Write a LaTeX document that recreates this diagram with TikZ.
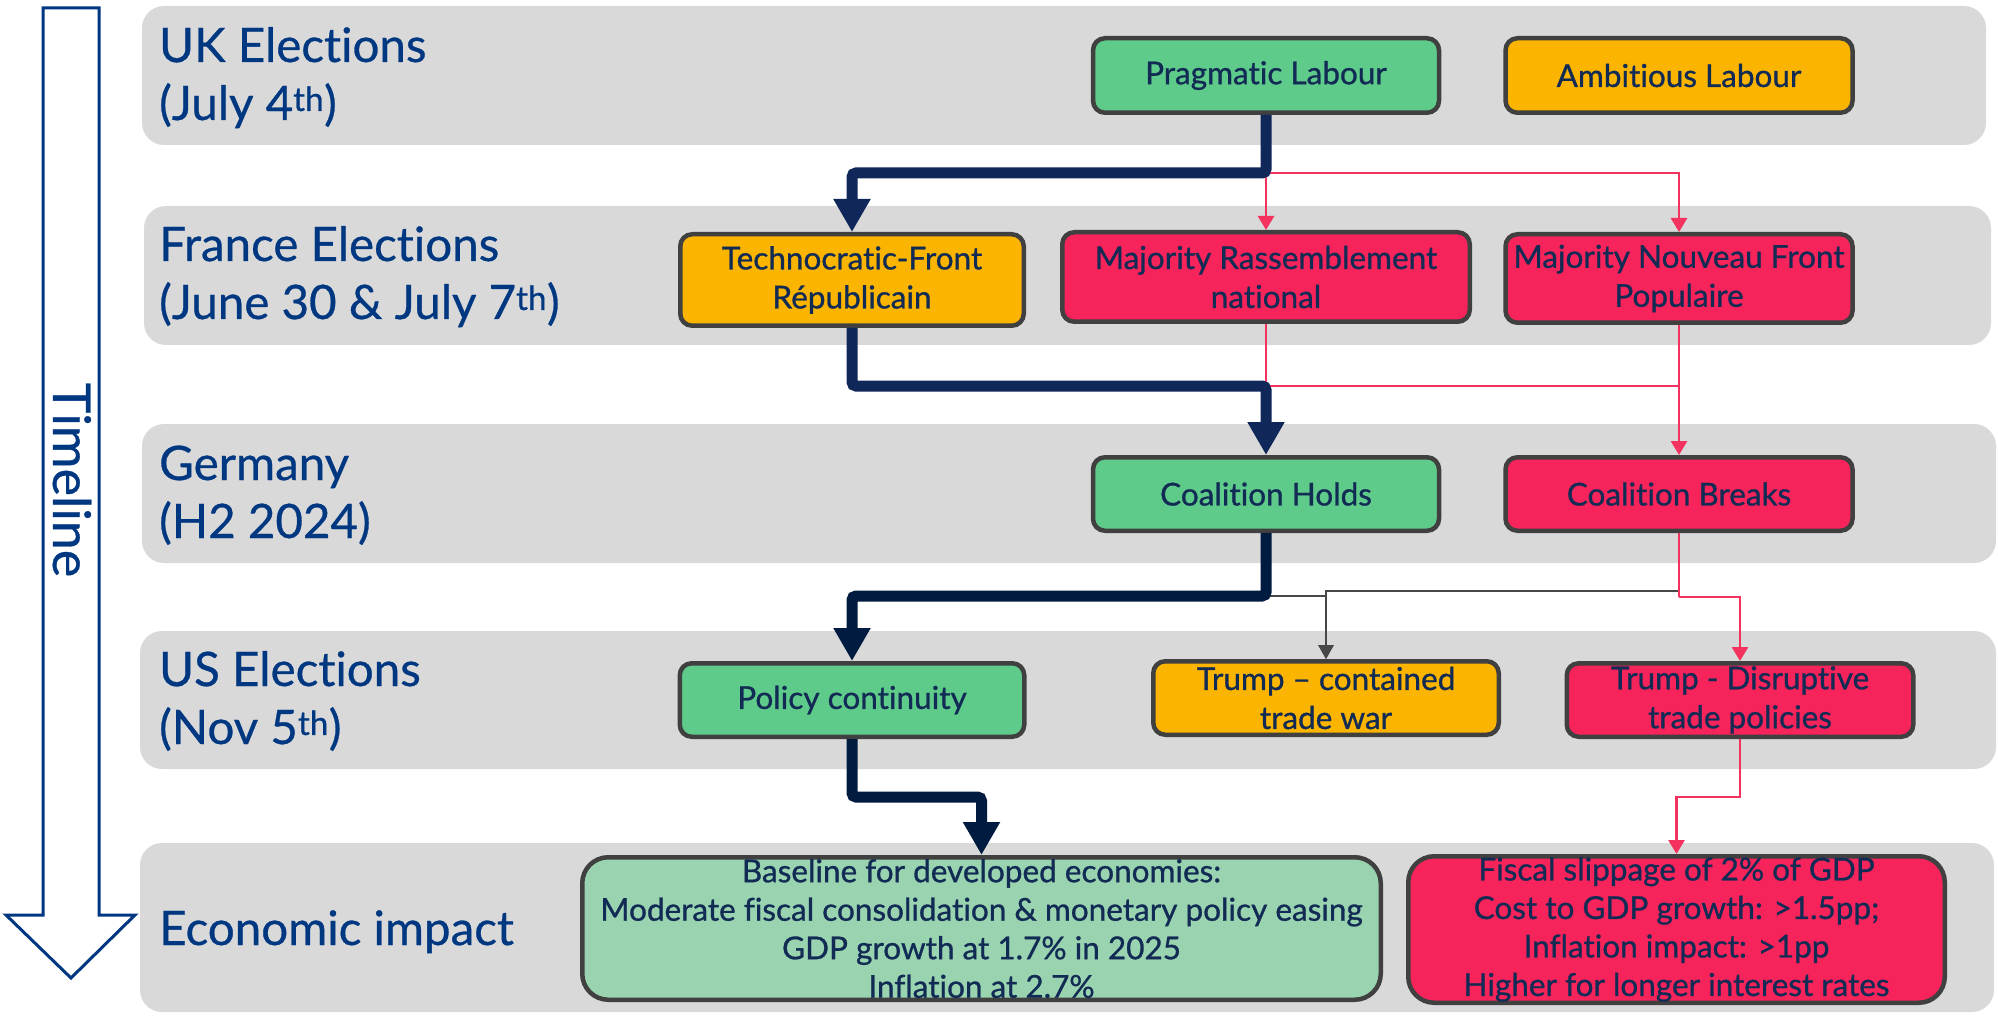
\documentclass[tikz,border=0pt]{standalone}
\usepackage{fontspec}
\setmainfont{Lato}[Ligatures=CommonOff]
\newfontfamily\boxfam{Lato}[Ligatures=CommonOff,FakeBold=0.9]
\newfontfamily\lblfam{Lato}[Ligatures=CommonOff,FakeBold=0.6]
\usetikzlibrary{arrows.meta}
\definecolor{bandgrey}{HTML}{D9D9D9}
\definecolor{lblue}{HTML}{003781}
\definecolor{btext}{HTML}{122B54}
\definecolor{bgreen}{HTML}{5FCB8A}
\definecolor{byellow}{HTML}{FBB500}
\definecolor{bred}{HTML}{F6245B}
\definecolor{lgreen}{HTML}{99D3AF}
\definecolor{bborder}{HTML}{404040}
\definecolor{navyA}{HTML}{10275A}
\definecolor{navyB}{HTML}{001B40}
\definecolor{cred}{HTML}{F3325F}
\definecolor{cgrey}{HTML}{474747}
\begin{document}
\begin{tikzpicture}[x=1pt,y=-1pt,
  band/.style={fill=bandgrey, rounded corners=22pt},
  lbl/.style={anchor=base west, align=left, text=lblue, font=\lblfam\fontsize{47.5}{58}\selectfont, inner sep=0pt},
  box/.style={draw=bborder, line width=4.5pt, rounded corners=12pt, align=center, text=btext,
    font=\boxfam\fontsize{31.5}{39}\selectfont, inner sep=0pt},
  bigbox/.style={box, rounded corners=26pt, font=\boxfam\fontsize{31.5}{38.5}\selectfont},
  navyline/.style={line width=11pt, rounded corners=4pt, -{Triangle[width=35pt,length=33pt]}},
  redline/.style={draw=cred, line width=2.8pt, -{Triangle[width=16pt,length=14pt]}},
  greyline/.style={draw=cgrey, line width=2.8pt, -{Triangle[width=15pt,length=14pt]}}
]
\useasboundingbox (0,0) rectangle (1998,1016);
% bands
\fill[band] (142,6) rectangle (1986,145);
\fill[band] (144,206) rectangle (1991,345);
\fill[band] (142,424) rectangle (1996,563);
\fill[band] (140,631) rectangle (1996,769);
\fill[band] (140,843) rectangle (1994,1012);
% timeline arrow
\draw[lblue, line width=3pt, line join=miter, fill=white]
  (43,8) -- (99,8) -- (99,915) -- (135,915) -- (71,978) -- (6,915) -- (43,915) -- cycle;
\node[rotate=-90, text=lblue, font=\lblfam\fontsize{52}{52}\selectfont, inner sep=0pt] (tl) at (72,480) {Timeline};
% labels (anchor = baseline of the last line)
\node[lbl] (l1) at (159,120) {UK Elections\\(July 4\textsuperscript{th})};
\node[lbl] (l2) at (159,319) {France Elections\\(June 30 \& July 7\textsuperscript{th})};
\node[lbl] (l3) at (159,538) {Germany\\(H2 2024)};
\node[lbl] (l4) at (159,744) {US Elections\\(Nov 5\textsuperscript{th})};
\node[lbl] (l5) at (159,945) {Economic impact};
% boxes
\node[box, fill=bgreen, minimum width=346pt, minimum height=74.5pt] (pl) at (1266,75.5) {Pragmatic Labour};
\node[box, fill=byellow, minimum width=347pt, minimum height=74.5pt] (al) at (1679,75.5) {Ambitious Labour};
\node[box, fill=byellow, minimum width=343.5pt, minimum height=91.5pt] (tech) at (852,280) {Technocratic-Front\\Républicain};
\node[box, fill=bred, minimum width=407.5pt, minimum height=89.5pt] (rn) at (1266,277) {Majority Rassemblement\\national};
\node[box, fill=bred, minimum width=347pt, minimum height=88.5pt] (nfp) at (1679,278.5) {Majority Nouveau Front\\Populaire};
\node[box, fill=bgreen, minimum width=346pt, minimum height=73.5pt] (ch) at (1266,494) {Coalition Holds};
\node[box, fill=bred, minimum width=347pt, minimum height=73.5pt] (cb) at (1679,494) {Coalition Breaks};
\node[box, fill=bgreen, minimum width=344.5pt, minimum height=73.5pt] (pc) at (852,700) {Policy continuity};
\node[box, fill=byellow, minimum width=345.5pt, minimum height=73.5pt] (tc) at (1326,698) {Trump – contained\\trade war};
\node[box, fill=bred, minimum width=346.5pt, minimum height=73.5pt] (td) at (1740,700) {Trump - Disruptive\\trade policies};
\node[bigbox, fill=lgreen, minimum width=798.5pt, minimum height=142.5pt] (base) at (981.5,928.5)
  {Baseline for developed economies:\\Moderate fiscal consolidation \& monetary policy easing\\GDP growth at 1.7\% in 2025\\Inflation at 2.7\%};
\node[bigbox, fill=bred, minimum width=536.5pt, minimum height=146.5pt] (ri) at (1676.5,929.5)
  {Fiscal slippage of 2\% of GDP\\Cost to GDP growth: >1.5pp;\\Inflation impact: >1pp\\Higher for longer interest rates};
% junction coordinates
\coordinate (j1) at (1266,173);
\coordinate (j2) at (1266,386);
\coordinate (j3) at (1266,596);
\coordinate (j4) at (1679,591);
\coordinate (j5) at (1679,597);
\coordinate (j6) at (852,797);
\coordinate (j7) at (1740,797);
% red / grey connectors
\draw[redline] (j1) -| (nfp.north);
\draw[redline] (j1) -- (rn.north);
\draw[draw=cred, line width=2.8pt] (rn.south) -- (j2) -- (1679,386);
\draw[redline] (nfp.south) -- (cb.north);
\draw[greyline] (j4) -| (tc.north);
\draw[greyline] (j3) -| (tc.north);
\draw[draw=cred, line width=2.8pt] (cb.south) -- (j5);
\draw[redline] (j5) -| (td.north);
\draw[redline] (td.south) -- (j7) -| (ri.north);
% navy connectors
\draw[navyline, draw=navyA] (pl.south) -- (j1) -| (tech.north);
\draw[navyline, draw=navyA] (tech.south) |- (j2) -- (ch.north);
\draw[navyline, draw=navyB] (ch.south) -- (j3) -| (pc.north);
\draw[navyline, draw=navyB] (pc.south) -- (j6) -| (base.north);
\end{tikzpicture}
\end{document}
